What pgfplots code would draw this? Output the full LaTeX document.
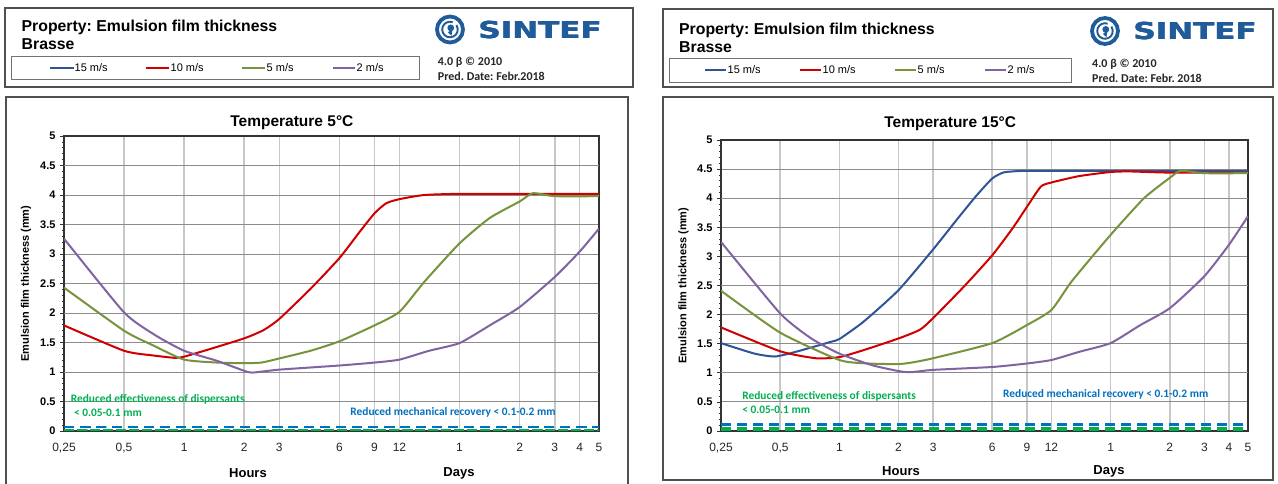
\documentclass[border=0pt]{standalone}
\usepackage{fontspec}
\setmainfont{Liberation Sans}
\newfontfamily\calibri{Carlito}
\newfontfamily\logofont{DejaVu Sans}
\usepackage{graphicx}
\usepackage{pgfplots}
\pgfplotsset{compat=1.18}
\frenchspacing

\definecolor{s15}{HTML}{2F5597}
\definecolor{s10}{HTML}{D00000}
\definecolor{s5}{HTML}{77933C}
\definecolor{s2}{HTML}{8064A2}
\definecolor{dispgreen}{HTML}{00B050}
\definecolor{mechblue}{HTML}{0070C0}
\definecolor{sintefblue}{HTML}{1F5C99}
\definecolor{framegray}{HTML}{505050}

\tikzset{
  note/.style={font=\calibri\bfseries\fontsize{11.4}{13}\selectfont, anchor=west, inner sep=0pt},
  hdr/.style={anchor=base west, inner sep=0pt, font=\bfseries\fontsize{15.8}{18}\selectfont},
  leg/.style={anchor=west, inner sep=0pt, font=\fontsize{11}{13}\selectfont},
  ver/.style={anchor=base west, inner sep=0pt, font=\calibri\bfseries\fontsize{12}{14}\selectfont, text=black!85},
  big/.style={font=\bfseries\fontsize{13}{15}\selectfont},
  logotext/.style={anchor=west, inner sep=0pt, text=sintefblue},
}

\newcommand{\sintefword}{\scalebox{1.33}[1]{\logofont\bfseries\fontsize{23.3}{26}\selectfont SINTEF}}
\newcommand{\sinteflogo}[2]{%
  \draw[sintefblue, line width=3.8pt] (#1,#2) circle (13pt);
  \draw[sintefblue, line width=1.9pt] (#1,#2) ++(70:7.8pt) arc[start angle=70, end angle=395, radius=7.8pt];
  \fill[sintefblue] (#1,#2) ++(0.8pt,1.6pt) circle (3.4pt);
  \fill[sintefblue] (#1,#2) ++(2.6pt,0.6pt) -- ++(-1.2pt,-7pt) -- ++(-3.4pt,3.6pt) -- cycle;
  \node[logotext] at (#1+28,#2+0.5) {\sintefword};
  \node[logotext] at (#1+28.6,#2+0.5) {\sintefword};
  \node[logotext] at (#1+28.3,#2+0.1) {\sintefword};
}

\begin{document}
% 1 unit = 1 px of the reference, y runs downwards
\begin{tikzpicture}[x=1pt,y=-1pt]
\path[use as bounding box] (0,0) rectangle (1278,484);
\fill[white] (0,0) rectangle (1278,484);
\coordinate (LA) at (64,431);
\coordinate (RA) at (721,431);

% ---------- left header ----------
\draw[framegray, line width=1.2pt] (5,8) rectangle (633,87);
\node[hdr] at (21.5,32) {Property: Emulsion film thickness};
\node[hdr] at (21.5,50) {Brasse};
\draw[black!55, line width=0.8pt] (11.5,56) rectangle (419,79.5);
\draw[s15, line width=2pt] (50,68) -- (73.5,68);
\node[leg] at (74.5,68) {15 m/s};
\draw[s10, line width=2pt] (146,68) -- (169,68);
\node[leg] at (170.5,68) {10 m/s};
\draw[s5, line width=2pt] (242,68) -- (265,68);
\node[leg] at (266.5,68) {5 m/s};
\draw[s2, line width=2pt] (333,68) -- (355,68);
\node[leg] at (356.5,68) {2 m/s};
\sinteflogo{450}{29.5}
\node[ver] at (437.7,66) {4.0 β © 2010};
\node[ver] at (437.7,80.5) {Pred. Date: Febr.2018};

% ---------- right header ----------
\draw[framegray, line width=1.2pt] (663,9) rectangle (1273,87);
\node[hdr] at (679,35) {Property: Emulsion film thickness};
\node[hdr] at (679,53) {Brasse};
\draw[black!55, line width=0.8pt] (669,58) rectangle (1071,82);
\draw[s15, line width=2pt] (705,70) -- (726,70);
\node[leg] at (727.5,70) {15 m/s};
\draw[s10, line width=2pt] (800,70) -- (821,70);
\node[leg] at (822.5,70) {10 m/s};
\draw[s5, line width=2pt] (895,70) -- (916,70);
\node[leg] at (917.5,70) {5 m/s};
\draw[s2, line width=2pt] (985,70) -- (1006,70);
\node[leg] at (1007.5,70) {2 m/s};
\sinteflogo{1105}{31}
\node[ver] at (1092,68) {4.0 β © 2010};
\node[ver] at (1092,82.5) {Pred. Date: Febr. 2018};

% ---------- chart frames ----------
\draw[framegray, line width=1.3pt] (6,97) rectangle (628,492);
\draw[framegray, line width=1.3pt] (663,97) rectangle (1273,480);

% ---------- left chart: 5 C ----------
\begin{axis}[at={(LA)}, anchor=south west, scale only axis, width=535pt, height=295pt,
  xmode=log, xmin=0.25, xmax=120, ymin=0, ymax=5,
  xtick={0.25,0.5,1,2,3,6,9,12,24,48,72,96,120},
  xticklabels={{0,25},{0,5},1,2,3,6,9,12,1,2,3,4,5},
  ytick={0,0.5,1,1.5,2,2.5,3,3.5,4,4.5,5},
  minor y tick num=4, xminorticks=false,
  xmajorgrids, ymajorgrids,
  x grid style={black!22, line width=1.6pt},
  y grid style={black!45, line width=0.9pt},
  extra y ticks={1,2,4.5}, extra y tick labels={},
  extra y tick style={grid=major, major grid style={black!85, line width=0.9pt}},
  axis line style={black!80, line width=1.1pt},
  tick align=outside, ytick pos=left,
  major tick length=4pt, minor tick length=2.5pt,
  xtick style={draw=none}, ytick style={black!80, line width=0.7pt},
  /pgf/number format/assume math mode=true,
  xticklabel style={font=\fontsize{12}{14}\selectfont, text=black!85, yshift=-5pt},
  yticklabel style={font=\bfseries\fontsize{11}{13}\selectfont, xshift=-1pt},
  ylabel={Emulsion film thickness (mm)},
  ylabel style={font=\bfseries\fontsize{11}{13}\selectfont, at={(axis description cs:-0.071,0.5)}, anchor=center},
  title={Temperature 5°C},
  title style={font=\bfseries\fontsize{15.5}{18}\selectfont, anchor=center, at={(axis description cs:0.426,1)}, yshift=7.5pt},
  every axis plot/.append style={line width=2pt, smooth, tension=0.35}]
\addplot[s10] coordinates {(0.25,1.79) (0.5,1.36) (0.7,1.28) (0.9,1.24) (1,1.26) (1.35,1.39) (2,1.57) (2.5,1.71) (3,1.90) (4.3,2.41) (6,2.93) (7.6,3.38) (9,3.69) (10.3,3.86) (12,3.93) (16,4.00) (24,4.02) (48,4.02) (120,4.02)};
\addplot[s5] coordinates {(0.25,2.43) (0.5,1.70) (0.7,1.45) (1,1.21) (1.46,1.16) (2,1.15) (2.44,1.16) (3,1.23) (4.3,1.36) (6,1.52) (9,1.79) (12,2.02) (16,2.53) (24,3.18) (34,3.61) (48,3.89) (56,4.03) (72,3.98) (120,3.98)};
\addplot[s2] coordinates {(0.25,3.26) (0.5,2.01) (0.72,1.62) (1,1.36) (1.46,1.19) (2,1.02) (2.2,0.99) (3,1.04) (6,1.11) (9,1.16) (12,1.21) (16.9,1.36) (24,1.49) (34,1.79) (48,2.10) (72,2.61) (96,3.04) (120,3.43)};
\addplot[mechblue, line width=2.3pt, dash pattern=on 10pt off 6pt] coordinates {(0.25,0.065) (120,0.065)};
\addplot[dispgreen, line width=2.3pt, dash pattern=on 10pt off 3pt] coordinates {(0.25,0.018) (120,0.018)};
\node[note, text=dispgreen] at (axis cs:0.27,0.54) {Reduced effectiveness of dispersants};
\node[note, text=dispgreen] at (axis cs:0.28,0.31) {< 0.05-0.1 mm};
\node[note, text=mechblue] at (axis cs:6.8,0.31) {Reduced mechanical recovery < 0.1-0.2 mm};
\end{axis}
\node[big] at (248,473) {Hours};
\node[big] at (459,473) {Days};

% ---------- right chart: 15 C ----------
\begin{axis}[at={(RA)}, anchor=south west, scale only axis, width=527pt, height=291pt,
  xmode=log, xmin=0.25, xmax=120, ymin=0, ymax=5,
  xtick={0.25,0.5,1,2,3,6,9,12,24,48,72,96,120},
  xticklabels={{0,25},{0,5},1,2,3,6,9,12,1,2,3,4,5},
  ytick={0,0.5,1,1.5,2,2.5,3,3.5,4,4.5,5},
  minor y tick num=4, xminorticks=false,
  xmajorgrids, ymajorgrids,
  x grid style={black!22, line width=1.6pt},
  y grid style={black!45, line width=0.9pt},
  extra y ticks={1,2.5,4}, extra y tick labels={},
  extra y tick style={grid=major, major grid style={black!85, line width=0.9pt}},
  axis line style={black!80, line width=1.1pt},
  tick align=outside, ytick pos=left,
  major tick length=4pt, minor tick length=2.5pt,
  xtick style={draw=none}, ytick style={black!80, line width=0.7pt},
  /pgf/number format/assume math mode=true,
  xticklabel style={font=\fontsize{12}{14}\selectfont, text=black!85, yshift=-5pt},
  yticklabel style={font=\bfseries\fontsize{11}{13}\selectfont, xshift=-1pt},
  ylabel={Emulsion film thickness (mm)},
  ylabel style={font=\bfseries\fontsize{11}{13}\selectfont, at={(axis description cs:-0.071,0.5)}, anchor=center},
  title={Temperature 15°C},
  title style={font=\bfseries\fontsize{15.5}{18}\selectfont, anchor=center, at={(axis description cs:0.435,1)}, yshift=10.5pt},
  every axis plot/.append style={line width=2pt, smooth, tension=0.35}]
\addplot[s15] coordinates {(0.25,1.51) (0.37,1.33) (0.47,1.28) (0.6,1.36) (0.9,1.53) (1,1.58) (1.33,1.88) (2,2.42) (3,3.12) (4,3.65) (5,4.05) (6,4.34) (6.8,4.44) (7.6,4.46) (9,4.47) (24,4.47) (120,4.47)};
\addplot[s10] coordinates {(0.25,1.78) (0.5,1.37) (0.76,1.25) (1,1.27) (1.33,1.39) (2,1.59) (2.57,1.74) (3,1.94) (4.3,2.48) (6,3.02) (7.6,3.48) (9,3.85) (10.6,4.20) (12,4.27) (16.6,4.38) (24,4.45) (30,4.46) (48,4.44) (120,4.44)};
\addplot[s5] coordinates {(0.25,2.41) (0.5,1.69) (1,1.22) (1.41,1.16) (2,1.15) (2.37,1.18) (3,1.25) (6,1.51) (9,1.82) (12,2.08) (15.2,2.57) (24,3.37) (35.5,4.00) (48,4.35) (54.6,4.47) (72,4.43) (120,4.43)};
\addplot[s2] coordinates {(0.25,3.25) (0.5,2.02) (0.72,1.59) (1,1.33) (1.47,1.13) (2,1.03) (2.3,1.01) (3,1.05) (6,1.10) (9,1.16) (12,1.22) (16.6,1.36) (24,1.51) (34,1.82) (48,2.11) (72,2.66) (96,3.20) (120,3.69)};
\addplot[mechblue, line width=2.3pt, dash pattern=on 10pt off 6pt] coordinates {(0.25,0.11) (120,0.11)};
\addplot[dispgreen, line width=2.3pt, dash pattern=on 10pt off 6pt] coordinates {(0.25,0.05) (120,0.05)};
\addplot[dispgreen, line width=2.3pt, dash pattern=on 10pt off 6pt] coordinates {(0.25,0.015) (120,0.015)};
\node[note, text=dispgreen] at (axis cs:0.32,0.60) {Reduced effectiveness of dispersants};
\node[note, text=dispgreen] at (axis cs:0.32,0.37) {< 0.05-0.1 mm};
\node[note, text=mechblue] at (axis cs:6.8,0.63) {Reduced mechanical recovery < 0.1-0.2 mm};
\end{axis}
\node[big] at (901,471) {Hours};
\node[big] at (1109,471) {Days};
\end{tikzpicture}
\end{document}
